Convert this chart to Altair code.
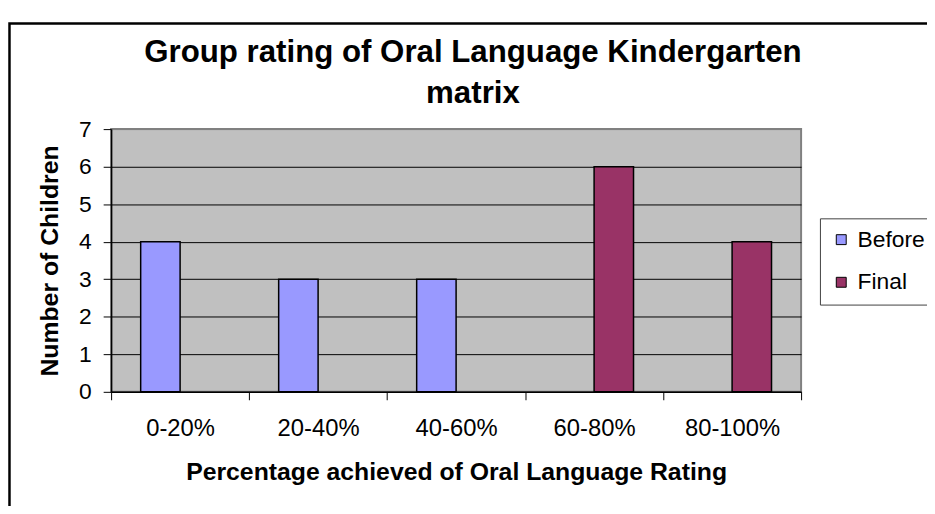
import altair as alt
import pandas as pd

categories = ["0-20%", "20-40%", "40-60%", "60-80%", "80-100%"]
series_names = ["Before", "Final"]
before_counts = [4, 3, 3, 0, 0]
final_counts = [0, 0, 0, 6, 4]
series_colors = ["#9999FF", "#993366"]
y_ticks = [0, 1, 2, 3, 4, 5, 6, 7]

rows = []
for cat, b, f in zip(categories, before_counts, final_counts):
    rows.append({"range": cat, "series": "Before", "count": b})
    rows.append({"range": cat, "series": "Final", "count": f})
df = pd.DataFrame(rows)
df = df[df["count"] > 0]

FONT = "Liberation Sans"

bars = alt.Chart(df).mark_bar(stroke="black", strokeWidth=1.5).encode(
    x=alt.X(
        "range:N",
        sort=categories,
        scale=alt.Scale(domain=categories, paddingInner=0, paddingOuter=0),
        axis=alt.Axis(
            title="Percentage achieved of Oral Language Rating",
            labelAngle=0,
            tickBand="extent",
            grid=False,
            tickSize=8,
            labelPadding=17,
            labelFontSize=24,
            titlePadding=19,
        ),
    ),
    xOffset=alt.XOffset(
        "series:N",
        scale=alt.Scale(domain=series_names, paddingInner=0, paddingOuter=0.75),
    ),
    y=alt.Y(
        "count:Q",
        scale=alt.Scale(domain=[0, 7], nice=False),
        axis=alt.Axis(
            values=y_ticks,
            title="Number of Children",
            grid=True,
            gridColor={"condition": {"test": "datum.value === 7", "value": "#808080"}, "value": "black"},
            gridWidth=1,
            tickSize=8,
            labelPadding=12,
            labelFontSize=23,
            titlePadding=16,
        ),
    ),
    color=alt.Color(
        "series:N",
        scale=alt.Scale(domain=series_names, range=series_colors),
        legend=alt.Legend(
            title=None,
            orient="none",
            legendX=715,
            legendY=90,
            symbolType="square",
            symbolSize=100,
            symbolStrokeColor="black",
            symbolStrokeWidth=1,
            labelFont=FONT,
            labelFontSize=23,
            labelColor="black",
            labelOffset=5,
            rowPadding=19,
            padding=10,
            strokeColor="#404040",
        ),
    ),
)

frame = alt.Chart(alt.Data(values=[{}])).mark_rect(
    fill="transparent", stroke="black", strokeWidth=2.5, clip=False
).encode(
    x=alt.value(-102.5), x2=alt.value(840), y=alt.value(-106.5), y2=alt.value(410)
)

chart = alt.layer(bars, frame).properties(
    width=696,
    height=265,
    autosize=alt.AutoSizeParams(type="none"),
    padding={"left": 104, "top": 120, "right": 127, "bottom": 113},
    title=alt.TitleParams(
        text=["Group rating of Oral Language Kindergarten", "matrix"],
        font=FONT,
        fontSize=31.5,
        fontWeight="bold",
        color="black",
        lineHeight=41,
        anchor="middle",
        frame="group",
        dx=17,
        offset=-88,
    ),
).configure_view(
    fill="#C0C0C0", stroke="#808080", strokeWidth=2
).configure_axis(
    labelFont=FONT,
    titleFont=FONT,
    labelColor="black",
    titleColor="black",
    titleFontSize=25,
    titleFontWeight="bold",
    domainColor="black",
    domainWidth=1.5,
    tickColor="black",
    tickWidth=1,
)

chart.save("out.html", embed_options={"renderer": "svg", "actions": False})
